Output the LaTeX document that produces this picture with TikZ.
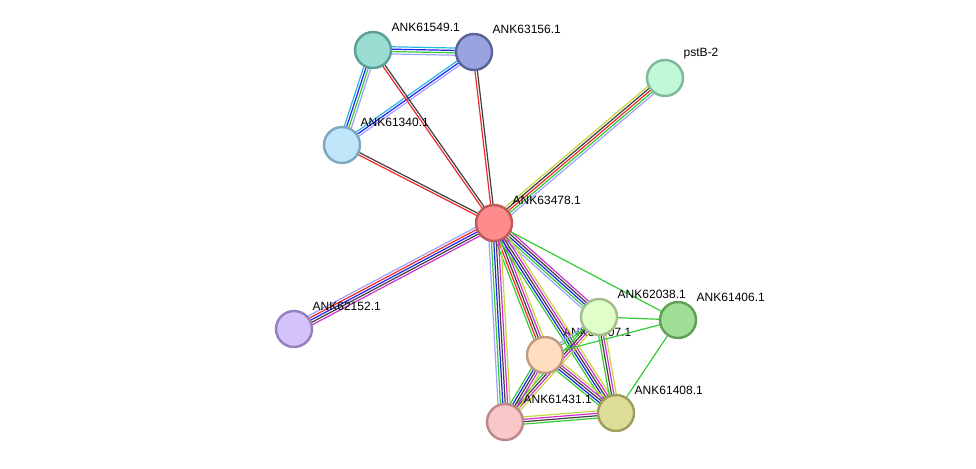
\documentclass[tikz,border=0pt]{standalone}
\usepackage{fontspec}
\setmainfont{Liberation Sans}
\usetikzlibrary{calc, backgrounds}
\definecolor{lkLav}{HTML}{A0A0FF}
\definecolor{lkGreen}{HTML}{33CC33}
\definecolor{lkRed}{HTML}{F02828}
\definecolor{lkBlue}{HTML}{2323F0}
\definecolor{lkBlack}{HTML}{404040}
\definecolor{lkMag}{HTML}{D02ED0}
\definecolor{lkCyan}{HTML}{26B8E0}
\definecolor{lkYel}{HTML}{C4D63A}

% parallel coloured lines between two proteins
\newcommand{\linkedge}[3]{%
  \foreach \c [count=\k] in {#3} {\xdef\nlines{\k}}%
  \foreach \c [count=\k] in {#3} {%
    \pgfmathsetmacro{\off}{(\k-(\nlines+1)/2)*2.4}%
    \draw[link, \c] ($(#1)!\off pt!90:(#2)$) -- ($(#2)!\off pt!-90:(#1)$);
  }%
}

\begin{document}
\begin{tikzpicture}[x=1pt, y=-1pt,
  prot/.style={circle, line width=2.4pt, minimum size=36pt, inner sep=0pt},
  lab/.style={font=\fontsize{12}{14}\selectfont, inner sep=0pt, text=black,
              label distance=7pt},
  link/.style={line width=1.2pt}
]
\useasboundingbox (0,0) rectangle (976,468);

% proteins
\node[prot, fill={rgb,255:red,153;green,221;blue,211}, draw={rgb,255:red,92;green,158;blue,149},
  label={[lab]45:ANK61549.1}] (p61549) at (373,50) {};
\node[prot, fill={rgb,255:red,153;green,163;blue,224}, draw={rgb,255:red,90;green,99;blue,153},
  label={[lab]45:ANK63156.1}] (p63156) at (474,52) {};
\node[prot, fill={rgb,255:red,192;green,248;blue,216}, draw={rgb,255:red,125;green,184;blue,154},
  label={[lab]45:pstB-2}] (pstB) at (665,78) {};
\node[prot, fill={rgb,255:red,192;green,230;blue,250}, draw={rgb,255:red,125;green,168;blue,190},
  label={[lab]45:ANK61340.1}] (p61340) at (342,145) {};
\node[prot, fill={rgb,255:red,255;green,140;blue,140}, draw={rgb,255:red,191;green,88;blue,88},
  label={[lab]45:ANK63478.1}] (p63478) at (494,223) {};
\node[prot, fill={rgb,255:red,211;green,195;blue,250}, draw={rgb,255:red,148;green,128;blue,191},
  label={[lab]45:ANK62152.1}] (p62152) at (294,329) {};
\node[prot, fill={rgb,255:red,255;green,221;blue,192}, draw={rgb,255:red,191;green,156;blue,128}] (p61407) at (545,355) {};
\node[prot, fill={rgb,255:red,224;green,255;blue,200}, draw={rgb,255:red,163;green,190;blue,140},
  label={[lab]45:ANK62038.1}] (p62038) at (599,317) {};
\node[prot, fill={rgb,255:red,159;green,222;blue,149}, draw={rgb,255:red,94;green,158;blue,85},
  label={[lab]45:ANK61406.1}] (p61406) at (678,320) {};
\node[prot, fill={rgb,255:red,248;green,200;blue,200}, draw={rgb,255:red,191;green,136;blue,136},
  label={[lab]45:ANK61431.1}] (p61431) at (505,422) {};
\node[prot, fill={rgb,255:red,221;green,221;blue,153}, draw={rgb,255:red,158;green,158;blue,92},
  label={[lab]45:ANK61408.1}] (p61408) at (616,413) {};

% links
\begin{pgfonlayer}{background}
\node[lab, anchor=south west] (l61407) at ($(p61407)+(18,-18)$) {ANK61407.1};
\linkedge{p61549}{p63156}{lkLav, lkGreen, lkBlue, lkCyan}
\linkedge{p61340}{p61549}{lkLav, lkGreen, lkBlue, lkCyan}
\linkedge{p61340}{p63156}{lkLav, lkBlue, lkCyan}
\linkedge{p61549}{p63478}{lkRed, lkBlack}
\linkedge{p63156}{p63478}{lkRed, lkBlack}
\linkedge{p61340}{p63478}{lkRed, lkBlack}
\linkedge{p63478}{pstB}{lkLav, lkGreen, lkRed, lkBlack, lkYel}
\linkedge{p63478}{p62152}{lkLav, lkRed, lkBlue, lkBlack, lkMag}
\linkedge{p63478}{p62038}{lkLav, lkGreen, lkBlue, lkBlack, lkMag}
\linkedge{p63478}{p61406}{lkGreen}
\linkedge{p63478}{p61407}{lkGreen, lkRed, lkBlack, lkMag, lkYel}
\linkedge{p63478}{p61431}{lkLav, lkGreen, lkBlue, lkBlack, lkMag, lkYel}
\linkedge{p63478}{p61408}{lkGreen, lkBlue, lkBlack, lkMag, lkYel}
\linkedge{p62038}{p61406}{lkGreen}
\linkedge{p62038}{p61407}{lkLav, lkGreen}
\linkedge{p62038}{p61431}{lkGreen, lkBlack, lkMag, lkYel}
\linkedge{p62038}{p61408}{lkGreen, lkBlack, lkMag, lkYel}
\linkedge{p61406}{p61407}{lkGreen}
\linkedge{p61406}{p61408}{lkGreen}
\linkedge{p61407}{p61431}{lkGreen, lkBlue, lkBlack, lkMag, lkYel}
\linkedge{p61407}{p61408}{lkGreen, lkBlue, lkBlack, lkMag, lkYel}
\linkedge{p61431}{p61408}{lkGreen, lkBlack, lkMag, lkYel}
\end{pgfonlayer}
\end{tikzpicture}
\end{document}
